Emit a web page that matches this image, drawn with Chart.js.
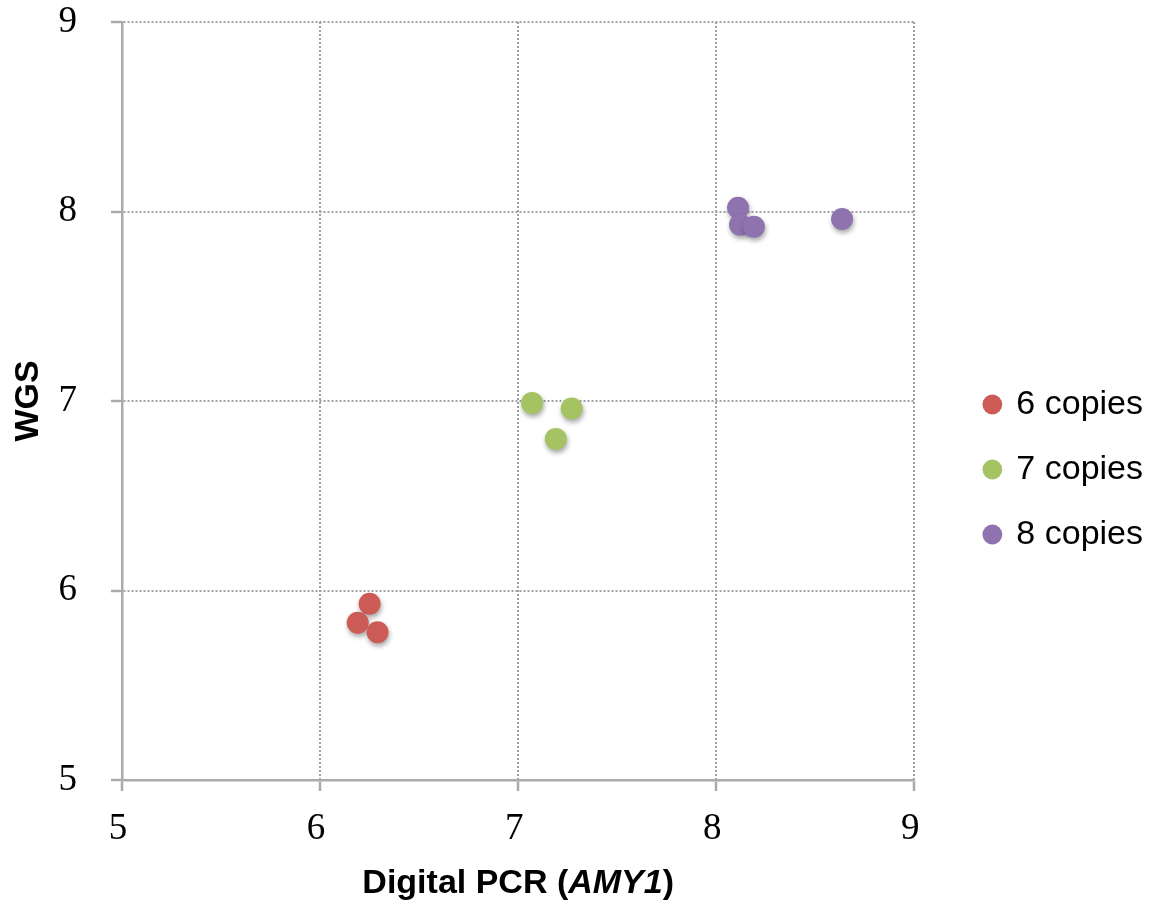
<!DOCTYPE html>
<html>
<head>
<meta charset="utf-8">
<script src="https://cdn.jsdelivr.net/npm/chart.js@4"></script>
<style>
    body { margin: 0; background: #fff; }
    #wrap { width: 1153px; height: 907px; }
</style>
</head>
<body>
<div id="wrap"><canvas id="chart1" width="1153" height="907"></canvas></div>
<script>
// 데이터
var seriesNames = ['6 copies', '7 copies', '8 copies'];
var seriesColors = ['#cd5b55', '#a5c363', '#8e73af'];

var pcr6 = [6.25, 6.19, 6.29];
var wgs6 = [5.93, 5.83, 5.78];
var pcr7 = [7.07, 7.27, 7.19];
var wgs7 = [6.99, 6.96, 6.80];
var pcr8 = [8.11, 8.12, 8.19, 8.635];
var wgs8 = [8.02, 7.93, 7.92, 7.96];

var axisMin = 5;
var axisMax = 9;
var xTitleParts = ['Digital PCR (', 'AMY1', ')'];
var yTitle = 'WGS';

function toPoints(xs, ys) {
    return xs.map(function (x, i) { return { x: x, y: ys[i] }; });
}

// 점 그림자
var shadowPlugin = {
    id: 'shadow',
    beforeDatasetsDraw: function (chart) {
        var c = chart.ctx;
        c.save();
        c.shadowColor = 'rgba(0,0,0,0.35)';
        c.shadowBlur = 5;
        c.shadowOffsetX = 1;
        c.shadowOffsetY = 3;
    },
    afterDatasetsDraw: function (chart) {
        chart.ctx.restore();
    }
};

// x축 제목 (AMY1 이탤릭)
var xTitlePlugin = {
    id: 'xTitle',
    afterDraw: function (chart) {
        var c = chart.ctx;
        var fonts = ['bold 34px "Liberation Sans", Arial', 'italic bold 34px "Liberation Sans", Arial', 'bold 34px "Liberation Sans", Arial'];
        c.save();
        var widths = xTitleParts.map(function (t, i) { c.font = fonts[i]; return c.measureText(t).width; });
        var total = widths.reduce(function (a, b) { return a + b; }, 0);
        var x = (chart.chartArea.left + chart.chartArea.right) / 2 - total / 2;
        c.fillStyle = '#000';
        c.textBaseline = 'middle';
        c.textAlign = 'left';
        xTitleParts.forEach(function (t, i) {
            c.font = fonts[i];
            c.fillText(t, x, 884);
            x += widths[i];
        });
        c.restore();
    }
};

function axisOptions() {
    return {
        type: 'linear',
        min: axisMin,
        max: axisMax,
        grid: {
            color: '#a0a0a0',
            lineWidth: 2,
            tickLength: 11,
            tickColor: '#aaaaaa',
            tickWidth: 2.5,
            tickBorderDash: []
        },
        border: {
            display: true,
            color: '#aaaaaa',
            width: 2.5,
            dash: [2, 2]
        },
        ticks: {
            stepSize: 1,
            color: '#000',
            font: { family: '"Liberation Serif", serif', size: 37 }
        }
    };
}

function drawchart() {
    var xOpt = axisOptions();
    xOpt.position = 'bottom';
    xOpt.ticks.padding = 16;
    xOpt.ticks.labelOffset = -4;
    xOpt.afterFit = function (s) { s.height = 127; };

    var yOpt = axisOptions();
    yOpt.position = 'left';
    yOpt.ticks.padding = 34;
    yOpt.title = {
        display: true,
        text: yTitle,
        color: '#000',
        font: { family: '"Liberation Sans", Arial', size: 34, weight: 'bold' },
        padding: { top: 8, bottom: 0 }
    };
    yOpt.afterFit = function (s) {
        s.width = 122;
        s.paddingTop = 0;
        s.paddingBottom = 0;
    };

    var ctx1 = document.getElementById('chart1');
    new Chart(ctx1, {
        type: 'scatter',
        data: {
            datasets: [
                { label: seriesNames[0], data: toPoints(pcr6, wgs6), backgroundColor: seriesColors[0], borderColor: seriesColors[0] },
                { label: seriesNames[1], data: toPoints(pcr7, wgs7), backgroundColor: seriesColors[1], borderColor: seriesColors[1] },
                { label: seriesNames[2], data: toPoints(pcr8, wgs8), backgroundColor: seriesColors[2], borderColor: seriesColors[2] }
            ]
        },
        options: {
            responsive: false,
            animation: false,
            devicePixelRatio: 1,
            layout: { padding: { top: 22, right: 0, bottom: 0, left: 0 } },
            elements: {
                point: { radius: 11, hoverRadius: 11, borderWidth: 0 }
            },
            scales: {
                x: xOpt,
                y: yOpt,
                // 범례 앞 빈 공간
                gap: {
                    type: 'linear',
                    position: 'right',
                    grid: { display: false },
                    ticks: { display: false },
                    border: { display: false },
                    afterFit: function (s) { s.width = 40; }
                }
            },
            plugins: {
                legend: {
                    position: 'right',
                    maxWidth: 199,
                    title: {
                        display: true,
                        text: '',
                        font: { size: 5 },
                        padding: 2
                    },
                    labels: {
                        usePointStyle: true,
                        pointStyle: 'circle',
                        boxWidth: 14,
                        boxHeight: 14,
                        padding: 31,
                        color: '#000',
                        font: { family: '"Liberation Sans", Arial', size: 34 }
                    }
                },
                tooltip: { enabled: false }
            }
        },
        plugins: [shadowPlugin, xTitlePlugin]
    });
}

window.onload = function () {
    drawchart();
}
</script>
</body>
</html>
